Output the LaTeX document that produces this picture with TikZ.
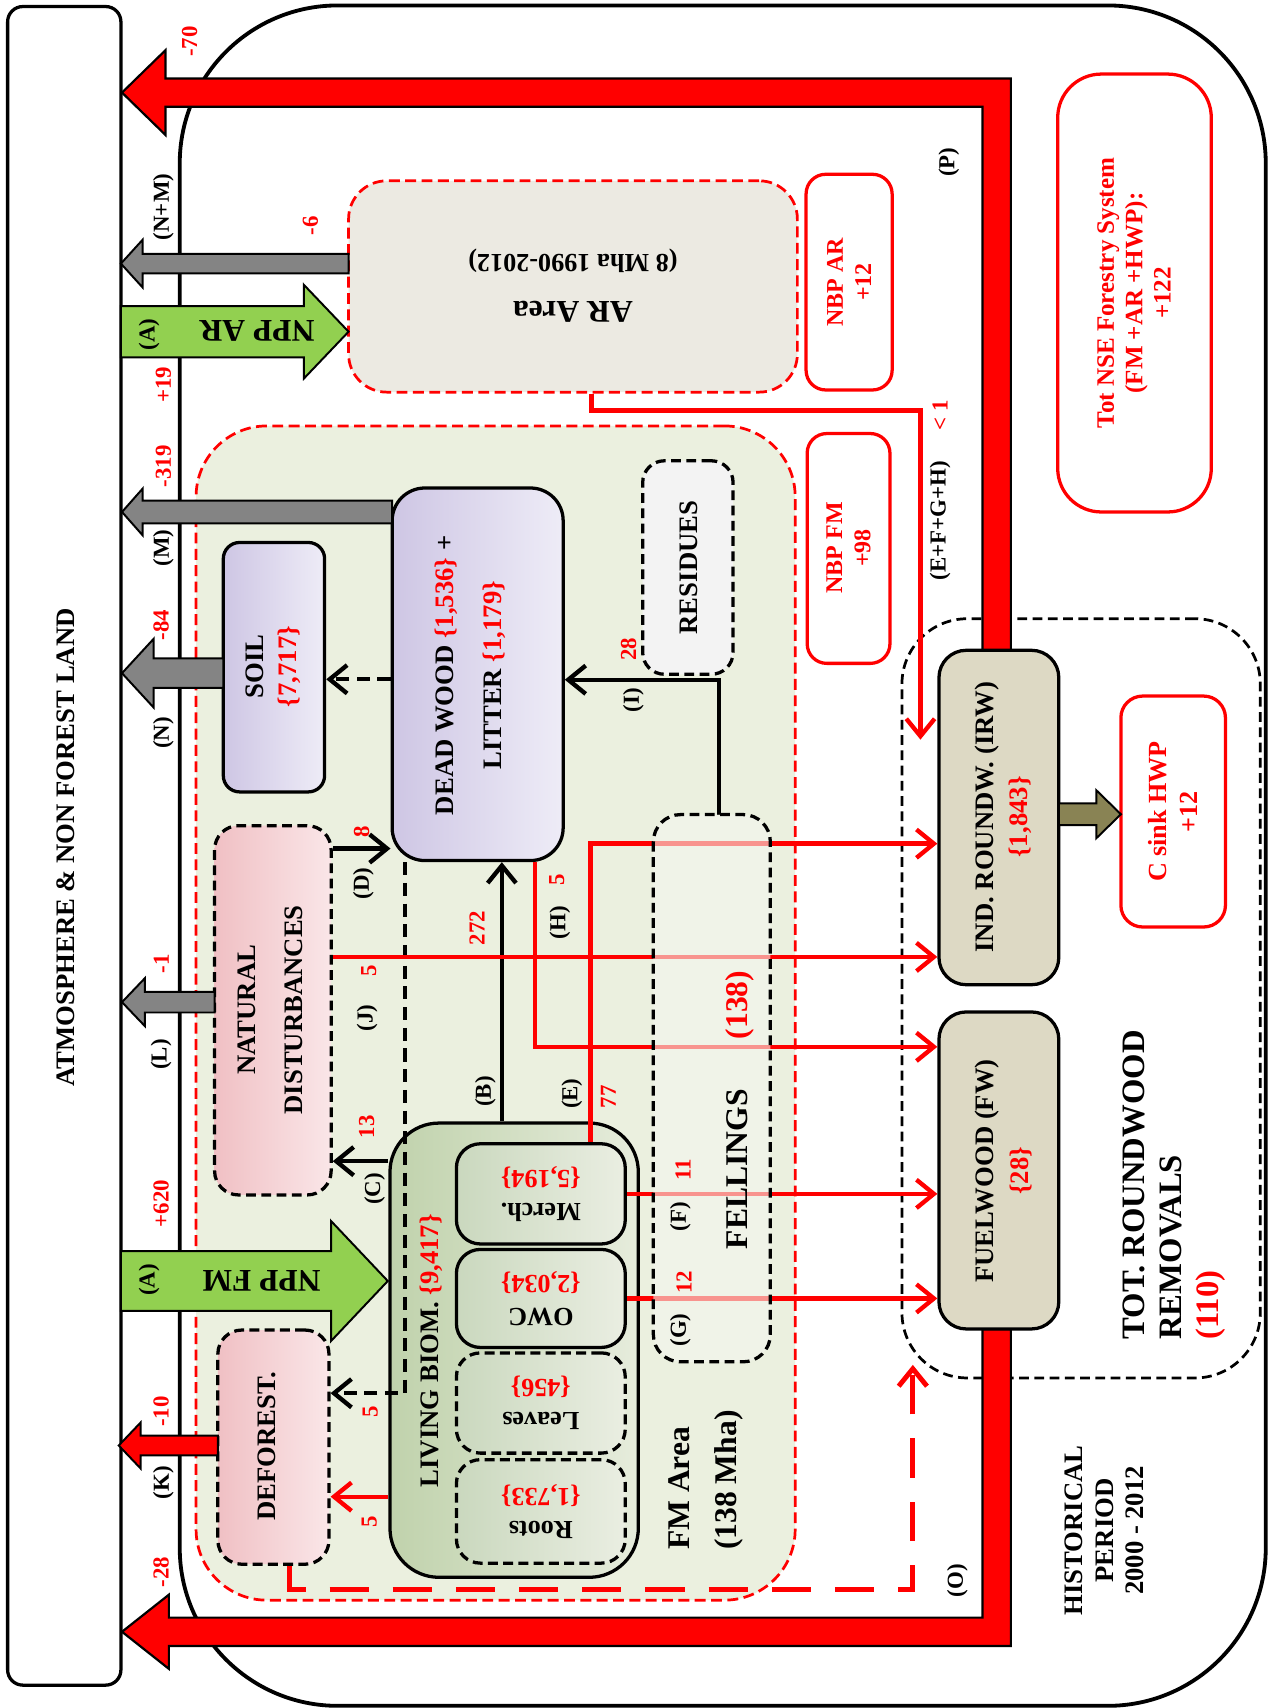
\documentclass[tikz,border=0pt]{standalone}
\usepackage{fontspec}
\setmainfont{Liberation Serif}
\usetikzlibrary{arrows.meta}
\definecolor{lavA}{RGB}{206,198,228}
\definecolor{lavB}{RGB}{238,236,247}
\definecolor{pinkA}{RGB}{240,192,196}
\definecolor{pinkB}{RGB}{250,230,232}
\definecolor{lbgA}{RGB}{192,210,172}
\definecolor{lbgB}{RGB}{230,236,220}
\definecolor{subA}{RGB}{202,216,190}
\definecolor{subB}{RGB}{234,238,226}
\definecolor{tanbox}{RGB}{221,217,196}
\definecolor{nppgreen}{RGB}{146,208,80}
\definecolor{grayarr}{RGB}{132,132,132}
\definecolor{olivearr}{RGB}{137,131,84}
\definecolor{fmgreen}{RGB}{235,240,223}
\definecolor{arbeige}{RGB}{236,234,226}
\definecolor{resfill}{RGB}{243,243,243}
\definecolor{fellfill}{RGB}{244,246,238}
\newcommand\fsM{\fontsize{24.5}{28}\selectfont}
\newcommand\fsB{\fontsize{29}{34}\selectfont}
\newcommand\fsL{\fontsize{21}{24}\selectfont}
\newcommand\harrow[7]{\filldraw[#7] (#1,#3) -- ({#1+(#6)},{#3-(#5)}) -- ({#1+(#6)},{#3-(#4)}) -- (#2,{#3-(#4)}) -- (#2,{#3+(#4)}) -- ({#1+(#6)},{#3+(#4)}) -- ({#1+(#6)},{#3+(#5)}) -- cycle;}
\begin{document}
\begin{tikzpicture}[x=1pt,y=-1pt,
  box/.style={draw=black, line width=3pt, rounded corners=#1, inner sep=0pt},
  box/.default=20pt,
  dbox/.style={box=#1, dash pattern=on 9pt off 5pt},
  dbox/.default=20pt,
  rbox/.style={draw=red, line width=3pt, rounded corners=#1, inner sep=0pt, fill=white},
  rbox/.default=18pt,
  txt/.style={rotate=90, align=center, inner sep=0pt, font=\bfseries\fsM},
  lab/.style={rotate=90, inner sep=0pt, font=\bfseries\fsL},
  rnum/.style={lab, text=red},
  blk/.style={line width=4pt, -{Straight Barb[length=16pt,width=26pt]}},
  blkd/.style={blk, dash pattern=on 12pt off 7pt},
  rarr/.style={blk, draw=red},
  rdash/.style={rarr, line width=4.5pt, dash pattern=on 36pt off 22pt},
  barrow/.style={draw=black, line width=1.8pt, line join=miter}
]
\useasboundingbox (0,0) rectangle (1167,1568);
\fill[white] (0,0) rectangle (1167,1568);

% frames
\node[box=145pt, line width=3.5pt, minimum width=997pt, minimum height=1561pt] (outer) at (663.5,785.5) {};
\node[box=14pt, line width=3pt, minimum width=104pt, minimum height=1541pt] (atm) at (59,776.5) {};
\node[dbox=60pt, line width=2.5pt, minimum width=329pt, minimum height=697pt] (tot) at (992.5,916.5) {};

% big red arrows (P) and (O)
\filldraw[fill=red, barrow, line width=2pt] (112,85) -- (152,46) -- (152,72) -- (928,72) -- (928,597) -- (902,597) -- (902,98) -- (152,98) -- (152,124) -- cycle;
\filldraw[fill=red, barrow, line width=2pt] (112,1498) -- (155,1464) -- (155,1485) -- (902,1485) -- (902,1220) -- (928,1220) -- (928,1511) -- (155,1511) -- (155,1532) -- cycle;

% regions
\node[draw=red, line width=2.5pt, dash pattern=on 10pt off 5pt, fill=fmgreen, rounded corners=65pt, minimum width=550pt, minimum height=1078pt, inner sep=0pt] (fm) at (455,930) {};
\node[draw=red, line width=2.5pt, dash pattern=on 10pt off 5pt, fill=arbeige, rounded corners=35pt, minimum width=412pt, minimum height=194pt, inner sep=0pt] (ar) at (526,263) {};

% boxes
\node[box=15pt, left color=lavA, right color=lavB, minimum width=93pt, minimum height=229pt] (soil) at (251.5,612.5) {};
\node[box=30pt, left color=lavA, right color=lavB, minimum width=157pt, minimum height=342pt] (dw) at (438.5,619) {};
\node[dbox=22pt, left color=pinkA, right color=pinkB, minimum width=107pt, minimum height=339pt] (nd) at (250.5,927.5) {};
\node[dbox=22pt, left color=pinkA, right color=pinkB, minimum width=102pt, minimum height=215pt] (def) at (251,1328.5) {};
\node[box=45pt, left color=lbgA, right color=lbgB, minimum width=228pt, minimum height=417pt] (lb) at (472,1239.5) {};
\node[box=22pt, left color=subA, right color=subB, minimum width=155pt, minimum height=92pt] (merch) at (496.5,1096) {};
\node[box=22pt, left color=subA, right color=subB, minimum width=155pt, minimum height=90pt] (owc) at (496.5,1192) {};
\node[dbox=22pt, left color=subA, right color=subB, minimum width=155pt, minimum height=92pt] (leaves) at (496.5,1288) {};
\node[dbox=22pt, left color=subA, right color=subB, minimum width=155pt, minimum height=95pt] (roots) at (496.5,1387.5) {};
\node[dbox=20pt, fill=resfill, minimum width=83pt, minimum height=196pt] (res) at (631.5,521) {};
\node[box=25pt, fill=tanbox, minimum width=110pt, minimum height=307pt] (irw) at (917,750.5) {};
\node[box=25pt, fill=tanbox, minimum width=110pt, minimum height=291pt] (fw) at (917,1074.5) {};
\node[rbox=20pt, minimum width=96pt, minimum height=212pt] (hwp) at (1077,745) {};
\node[rbox, minimum width=76pt, minimum height=211pt] (nbpfm) at (779,503.5) {};
\node[rbox, minimum width=79pt, minimum height=198pt] (nbpar) at (779.5,259) {};
\node[rbox=40pt, minimum width=141pt, minimum height=402pt] (nse) at (1041.5,269) {};
\node[inner sep=0pt, minimum width=107pt, minimum height=502pt] (fell) at (653.5,999) {};

% helper coordinates
\coordinate (xB) at (460.7,0);
\coordinate (yC) at (0,1066);
\coordinate (yD) at (0,779);
\coordinate (xI) at (660,0);
\coordinate (yI) at (0,624);
\coordinate (xE) at (542,0);
\coordinate (yE) at (0,774.5);
\coordinate (yJ) at (0,878.5);
\coordinate (xH) at (491,0);
\coordinate (yH) at (0,961);
\coordinate (yLD) at (0,1374);
\coordinate (xDD) at (372,0);
\coordinate (yDD) at (0,1279);
\coordinate (yDS) at (0,623.6);
\coordinate (xA) at (543,0);
\coordinate (yA) at (0,377);
\coordinate (arEnd) at (845,679);
\coordinate (xDT) at (266,0);
\coordinate (yDT) at (0,1459);
\coordinate (defEnd) at (838,1253);

% black connectors
\draw[blk] (lb.north -| xB) -- (dw.south -| xB);
\draw[blk] (lb.west |- yC) -- (nd.east |- yC);
\draw[blk] (nd.east |- yD) -- (dw.west |- yD);
\draw[blk] (fell.north -| xI) -- (xI |- yI) -- (dw.east |- yI);
\draw[blkd] (dw.west |- yDS) -- (soil.east |- yDS);
\draw[blkd] (dw.south -| xDD) -- (xDD |- yDD) -- (def.east |- yDD);

% red connectors
\draw[rarr] (merch.north -| xE) -- (xE |- yE) -- (irw.west |- yE);
\draw[rarr] (nd.east |- yJ) -- (irw.west |- yJ);
\draw[rarr] (dw.south -| xH) -- (xH |- yH) -- (fw.west |- yH);
\draw[rarr] (merch.east) -- (fw.west |- merch.east);
\draw[rarr] (owc.east) -- (fw.west |- owc.east);
\draw[rarr] (lb.west |- yLD) -- (def.east |- yLD);
\draw[rarr] (ar.south -| xA) -- (xA |- yA) -- (arEnd |- yA) -- (arEnd);
\draw[rdash] (def.south -| xDT) -- (xDT |- yDT) -- (defEnd |- yDT) -- (defEnd);

% fellings overlay
\draw[draw=black, line width=3pt, dash pattern=on 9pt off 5pt, fill=fellfill, fill opacity=0.6, rounded corners=25pt] (fell.north west) rectangle (fell.south east);

% block arrows
\harrow{320}{111}{304.5}{23.5}{43}{-41}{fill=nppgreen, barrow}
\harrow{111}{320}{242}{9}{22}{20}{fill=grayarr, barrow}
\harrow{112}{360}{470}{10.5}{21.5}{19}{fill=grayarr, barrow}
\harrow{112}{205}{618}{13.5}{31.5}{29}{fill=grayarr, barrow}
\harrow{112}{197}{920}{9.5}{22}{21}{fill=grayarr, barrow}
\harrow{356}{111}{1176}{27.5}{55}{-52}{fill=nppgreen, barrow}
\harrow{109}{200}{1327}{9}{21}{20}{fill=red, barrow}
\harrow{1029}{972}{747.5}{10}{22}{-22.5}{fill=olivearr, barrow}

% texts in boxes
\node[txt] (atmt) at (60,778) {ATMOSPHERE \& NON FOREST LAND};
\node[rotate=180, align=center, inner sep=0pt, font=\bfseries\fontsize{24}{43}\selectfont] (art) at (526,262) {{\fontsize{29}{43}\selectfont AR Area}\\(8 Mha 1990-2012)};
\node[rotate=180, inner sep=0pt, font=\bfseries\fsB] (nppart) at (236,304) {NPP AR};
\node[rotate=180, inner sep=0pt, font=\bfseries\fsB] (nppfmt) at (240,1176) {NPP FM};
\node[txt, font=\bfseries\fontsize{24.5}{30}\selectfont] (soilt) at (251,612) {SOIL\\\textcolor{red}{\{7,717\}}};
\node[txt] (dwt) at (432,620) {DEAD WOOD \textcolor{red}{\{1,536\}} +\\[16pt]LITTER \textcolor{red}{\{1,179\}}};
\node[txt] (ndt) at (248.5,927) {NATURAL\\[15pt]DISTURBANCES};
\node[txt] (deft) at (245,1328) {DEFOREST.};
\node[txt] (lbt) at (396,1240) {LIVING BIOM. \textcolor{red}{\{9,417\}}};
\node[rotate=180, align=center, inner sep=0pt, font=\bfseries\fontsize{24}{30}\selectfont] (mercht) at (496.5,1096) {Merch.\\\textcolor{red}{\{5,194\}}};
\node[rotate=180, align=center, inner sep=0pt, font=\bfseries\fontsize{24}{30}\selectfont] (owct) at (496.5,1192) {OWC\\\textcolor{red}{\{2,034\}}};
\node[rotate=180, align=center, inner sep=0pt, font=\bfseries\fontsize{24}{30}\selectfont] (leavest) at (496.5,1288) {Leaves\\\textcolor{red}{\{456\}}};
\node[rotate=180, align=center, inner sep=0pt, font=\bfseries\fontsize{24}{30}\selectfont] (rootst) at (496.5,1387.5) {Roots\\\textcolor{red}{\{1,733\}}};
\node[txt] (rest) at (632,521) {RESIDUES};
\node[txt, font=\bfseries\fsB] (fellt) at (679,1019) {FELLINGS\hspace{46pt}\textcolor{red}{(138)}};
\node[rotate=90, anchor=west, align=left, inner sep=0pt, font=\bfseries\fontsize{29}{43}\selectfont] (fmt) at (648,1423) {FM Area\\(138 Mha)};
\node[txt, font=\bfseries\fontsize{24.5}{28}\selectfont] (histt) at (1014,1405) {HISTORICAL\\PERIOD\\2000 - 2012};
\node[rotate=90, anchor=west, align=left, inner sep=0pt, font=\bfseries\fontsize{30}{34}\selectfont] (tott) at (1078,1230) {TOT. ROUNDWOOD\\REMOVALS\\\textcolor{red}{(110)}};
\node[txt, font=\bfseries\fontsize{24.5}{32}\selectfont] (irwt) at (921,750) {IND. ROUNDW. (IRW)\\\textcolor{red}{\{1,843\}}};
\node[txt, font=\bfseries\fontsize{24.5}{32}\selectfont] (fwt) at (921,1075) {FUELWOOD (FW)\\\textcolor{red}{\{28\}}};
\node[txt, text=red, font=\bfseries\fontsize{24}{28}\selectfont] (hwpt) at (1077,745) {C sink HWP\\+12};
\node[txt, text=red, font=\bfseries\fontsize{22}{26}\selectfont] (nbpfmt) at (779,503) {NBP FM\\+98};
\node[txt, text=red, font=\bfseries\fontsize{22}{26}\selectfont] (nbpart) at (779.5,259) {NBP AR\\+12};
\node[txt, text=red, font=\bfseries\fontsize{23}{26}\selectfont] (nset) at (1041,269) {Tot NSE Forestry System\\(FM +AR +HWP):\\+122};

% flow labels
\node[lab] (lNM) at (150,190) {(N+M)};
\node[rnum] (v6) at (285,207) {-6};
\node[lab] (lA1) at (137,307) {(A)};
\node[rnum] (v19) at (150,353) {+19};
\node[rnum] (v319) at (150,428) {-319};
\node[lab] (lM) at (150,503) {(M)};
\node[rnum] (v84) at (148,574) {-84};
\node[lab] (lN) at (150,673) {(N)};
\node[rnum] (v1) at (148,885) {-1};
\node[lab] (lL) at (148,968) {(L)};
\node[rnum] (v620) at (148,1105) {+620};
\node[lab] (lA2) at (137,1175) {(A)};
\node[rnum] (v10) at (148,1296) {-10};
\node[lab] (lK) at (150,1361) {(K)};
\node[rnum] (v28b) at (148,1443) {-28};
\node[rnum] (v70) at (174,38) {-70};
\node[lab] (lC) at (344,1091.5) {(C)};
\node[rnum] (v13) at (336.6,1034.5) {13};
\node[rnum] (v5a) at (340,1296) {5};
\node[rnum] (v5b) at (339,1397) {5};
\node[lab] (lB) at (445.5,1002) {(B)};
\node[rnum] (v272) at (438,852) {272};
\node[lab] (lD) at (333.6,811) {(D)};
\node[rnum] (v8) at (332,764) {8};
\node[lab] (lJ) at (337,934.5) {(J)};
\node[rnum] (v5c) at (338.5,891) {5};
\node[lab] (lH) at (514,847) {(H)};
\node[rnum] (v5d) at (511,808) {5};
\node[lab] (lE) at (525,1004) {(E)};
\node[rnum] (v77) at (558.5,1007) {77};
\node[lab] (lI) at (581.5,643) {(I)};
\node[rnum] (v28) at (577,596) {28};
\node[lab] (lF) at (624.5,1117) {(F)};
\node[rnum] (v11) at (627,1074) {11};
\node[lab] (lG) at (624.5,1221) {(G)};
\node[rnum] (v12) at (628,1177) {12};
\node[lab] (lEFGH) at (863,478) {(E+F+G+H)};
\node[rnum] (vlt1) at (863,381) {< 1};
\node[lab] (lP) at (871,149) {(P)};
\node[lab] (lO) at (879,1451) {(O)};
\end{tikzpicture}
\end{document}
